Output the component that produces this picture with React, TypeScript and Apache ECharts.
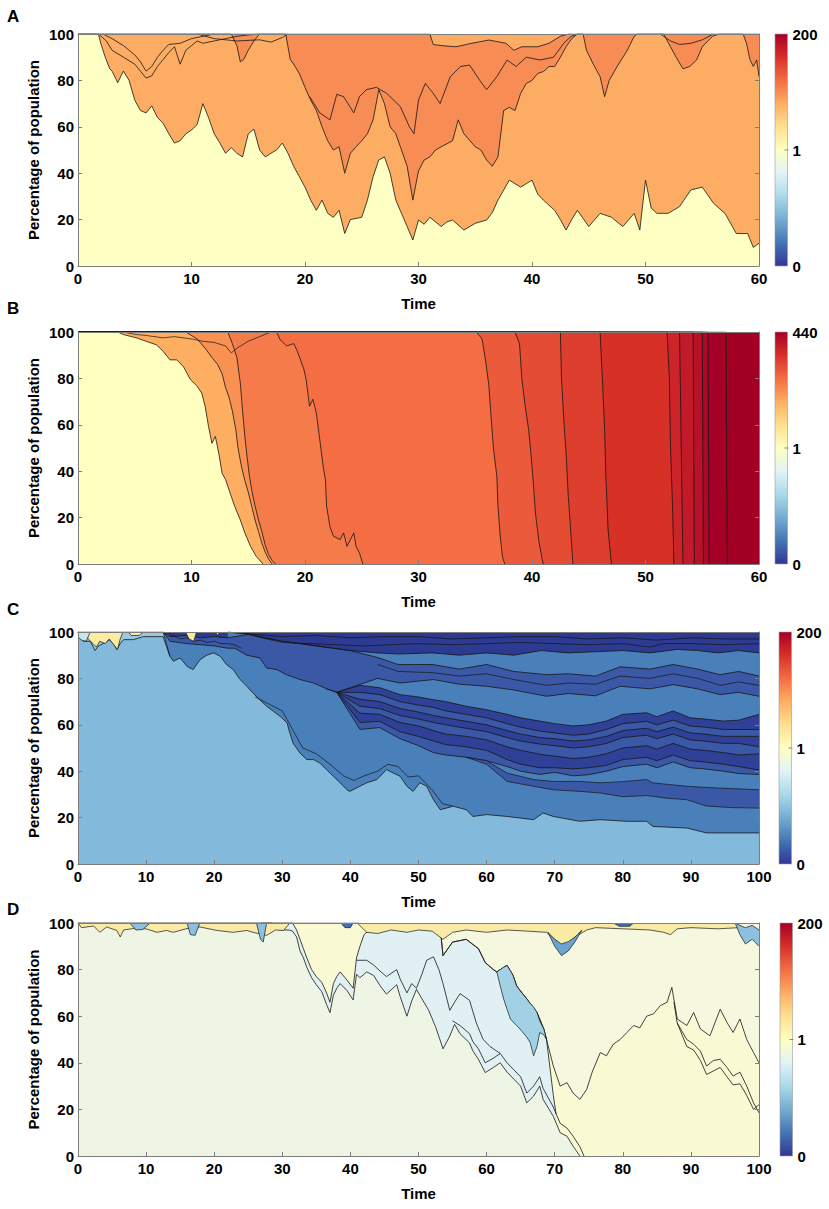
import React, { useEffect, useRef } from "react";
import * as echarts from "echarts";

type Pt = [number, number];

const FONT = "Arial, 'Liberation Sans', Helvetica, sans-serif";
const LINE_COLOR = "#161616";
const AXIS_GRAY = "#7d7d7d";

const PANEL_LETTERS = ["A", "B", "C", "D"];
const X_MAX = [60, 60, 100, 100];
const CB_LABELS = [["200", "1", "0"], ["440", "1", "0"], ["200", "1", "0"], ["200", "1", "0"]];
const RDYLBU = ["#a50026", "#d73027", "#f46d43", "#fdae61", "#fee090", "#ffffbf", "#e0f3f8", "#abd9e9", "#74add1", "#4575b4", "#313695"];

// ---------------- Panel A ----------------
const A_YELLOW = "#feffc2";
const A_LIGHT = "#fcad63";
const A_DARK = "#f78c54";

const aYellowTop: Pt[] = [[0,100],[1.8,100],[2,96],[2.4,90],[2.8,85],[3,84],[3.5,79],[4,84],[4.5,80],[5,71.5],[5.5,67],[6,66],[6.5,69],[7,64],[7.5,61.5],[8,57],[8.5,53],[9,54],[9.5,57],[10,58.6],[10.5,61],[11,70],[11.5,64],[12,57],[12.5,53],[13,48.6],[13.5,51],[14,48.6],[14.5,47],[15,57],[15.5,59],[16,50],[16.5,47],[17,48.6],[17.5,50],[18,53],[18.5,48.6],[19,43],[19.5,38.5],[20,34],[20.5,28.4],[21,24],[21.5,28.4],[22,22.7],[22.5,21],[23,24],[23.5,14],[24,20],[24.5,20.5],[25,21],[25.5,28.4],[26,38.5],[26.5,45.7],[27,47],[27.5,40],[28,28.4],[28.5,22.7],[29,17],[29.5,11.2],[30,19.8],[30.5,18],[31,21],[32,17],[32.5,19],[33,19.8],[34,15.5],[35,18.4],[36,19.8],[36.5,23],[37,28.4],[38,37],[39,34],[39.5,35.5],[40,37],[40.5,31],[41,28.4],[42,24],[42.5,20],[43,15.5],[43.5,20],[44,24],[45,17],[46,22.7],[47,21],[48,17],[49,22.7],[49.5,15.5],[50,37],[50.5,25],[51,22.7],[52,22.7],[53,25.6],[54,32.8],[55,34],[56,27],[57,22.7],[58,14],[59,14],[59.5,8],[60,9.8]];
const aDarkLower: Pt[] = [[0,100],[13.5,100],[14,95],[14.3,88],[14.6,89],[15,93],[15.5,97],[16,100],[18.3,100],[18.7,89],[19,87],[19.5,83],[20,77],[20.5,71.5],[21,67],[21.5,60],[22,54],[22.5,50],[23,51.4],[23.5,40],[24,48.6],[24.5,51.4],[25,54],[25.5,57],[26,63],[26.5,76],[27,70],[27.5,60],[28,57],[28.5,50],[29,43],[29.5,28.4],[30,41],[30.5,45.7],[31,47],[31.5,50],[32,51.4],[33,54],[33.5,63],[34,57],[35,51.4],[35.5,50],[36,45.7],[36.5,43],[37,47],[37.5,67],[38,68.4],[38.5,67],[39,74.4],[39.5,78.7],[40,80],[40.5,83],[41,83.8],[41.5,86],[42,86],[42.5,90],[43,94.5],[43.5,98],[44,100],[44.5,100],[44.8,93],[45.4,87],[46,81.6],[46.4,73],[46.8,80],[47.5,86],[48.4,93],[49,99],[49.3,100],[51.6,100],[52.2,94.5],[52.7,90],[53.3,85],[53.9,86],[54.5,88.8],[55,94.5],[55.9,99],[56.5,100],[58.6,100],[58.9,96],[59.2,89],[59.5,86],[59.8,88.8],[60,81.6]];
const aDarkUpper: Pt[] = [[20.4,73],[20.8,70],[21.3,66],[22.2,63],[22.8,74],[23.4,73],[24.3,66],[24.8,73],[25.4,76],[26.3,77],[27.2,74.4],[28.4,68.7],[29.2,60],[29.6,57],[30,71.5],[30.6,78.7],[31.3,74.4],[31.9,70],[32.8,81.6],[33.7,86],[34.5,86.6],[35.4,80],[36,76],[36.9,81.6],[37.8,88.8],[38.6,86],[39.5,90],[40.7,88.8],[41.9,90],[42.8,96],[43.4,98.8],[44,100]];
const aTopSliver: Pt[] = [[0,100],[31,100],[31.3,95.5],[32,95],[33.3,94.5],[34.7,96],[36.2,97.4],[37.7,96],[38.4,93],[39.1,94.5],[40.5,94.5],[41.5,96],[42.5,99],[43.2,100],[60,100]];
const aSliverLine1: Pt[] = [[1.8,100],[2.5,97],[3,93],[4,90],[5,87],[5.5,84],[6,81],[6.5,82],[7,86],[7.5,89],[8,92],[8.5,94.5],[9,87],[9.5,93],[10,95],[10.5,97],[11,96],[12,97],[13,98],[14,99],[15,99.6],[16,100]];
const aSliverLine2: Pt[] = [[2.2,100],[3,98],[4,95],[5,91],[5.5,88],[6,84],[6.5,86],[7,90],[7.5,93],[8,95.5],[9,96],[10,98],[11,99],[12,100]];
const aSliverLine3: Pt[] = [[10.5,100],[12,98],[14,97],[16,97.5],[17,96.5],[18,98.5],[18.5,100]];
const aWedgeLine: Pt[] = [[51.3,100],[52.2,97],[53,95.5],[54,96],[55,97.5],[56,100]];

// ---------------- Panel B ----------------
const bCloneColors = ["#ffffbf","#fdae61","#f99153","#f67b4a","#f46d43","#eb5b3b","#e44c34","#dd3e2d","#d63027","#cc2429","#c31a29","#b91128","#ae0827","#a50026","#a30026"];
const bBound1: Pt[] = [[0,100],[3.5,100],[4,98.9],[5.2,97.4],[6,96],[6.9,94.5],[7.5,91.7],[8.1,88],[8.7,88],[9.3,85],[9.9,79.5],[10.5,76.6],[10.9,73.7],[11.2,68],[11.5,59.3],[11.8,52],[12.1,55],[12.4,47.8],[12.7,39],[13,36.4],[13.4,30.6],[13.8,24.9],[14.3,19],[14.7,13.4],[15.2,7.6],[15.7,3.3],[16.3,0]];
const bBound2: Pt[] = [[0,100],[9.5,100],[10.5,97],[11.2,93],[11.8,89],[12.3,86],[12.7,82],[13,76],[13.3,72],[13.6,66],[13.9,58],[14.1,50],[14.4,42],[14.7,36],[15,31],[15.3,25],[15.6,19],[15.9,14],[16.2,9],[16.5,5],[16.8,2],[17.1,0]];
const bBound3: Pt[] = [[0,100],[13.2,100],[13.6,95],[14,89],[14.3,78],[14.5,66],[14.7,55],[14.9,46],[15.1,38],[15.3,32],[15.6,25],[15.9,19],[16.2,14],[16.5,8],[16.8,4],[17.1,1.5],[17.4,0]];
const bBound4: Pt[] = [[0,100],[17.5,100],[17.8,96.7],[18.4,94],[19,95],[19.3,92],[19.9,84],[20.1,79.5],[20.4,68],[20.7,71],[21,65],[21.3,53.6],[21.6,42],[21.8,36.4],[21.9,25],[22.2,16],[22.5,12],[23.1,10.5],[23.4,13.4],[23.7,7.6],[24.3,13.4],[24.5,7.6],[24.8,4.7],[25.1,0]];
const bBound5: Pt[] = [[0,100],[35.1,100],[35.6,97],[35.9,88],[36.2,77],[36.4,63],[36.6,50],[36.9,38],[37,25],[37.2,12],[37.4,3],[37.6,0]];
const bBound6: Pt[] = [[0,100],[38.5,100],[38.9,95],[39.1,80],[39.4,68],[39.7,58],[39.9,48],[40.1,36],[40.3,22],[40.6,10],[40.9,2],[41,0]];
const bBound7: Pt[] = [[0,100],[42.5,100],[42.6,80],[42.8,62],[43,48],[43.2,29],[43.4,15],[43.6,0]];
const bBound8: Pt[] = [[0,100],[46,100],[46.2,80],[46.4,58],[46.5,39],[46.7,15],[47,0]];
const bBound9: Pt[] = [[0,100],[51.9,100],[52.1,80],[52.2,51],[52.4,22],[52.5,0]];
const bBound10: Pt[] = [[0,100],[53,100],[53.3,0]];
const bBound11: Pt[] = [[0,100],[54.2,100],[54.3,0]];
const bBound12: Pt[] = [[0,100],[55,100],[55.1,0]];
const bBound13: Pt[] = [[0,100],[55.5,100],[55.6,0]];
const bBound14: Pt[] = [[0,100],[57.1,100],[57.2,0]];
const bSliverLine: Pt[] = [[4,100],[5,99],[6,98.5],[7.5,97.5],[8.5,98],[10,97],[11,96],[12,95.5],[13,94],[13.5,91],[14,93],[15,96],[16,98],[17,100]];

// ---------------- Panel C ----------------
const C_NAVY = "#2c3a92";
const C_RIBBON = "#2f4197";
const C_DARK = "#3b58a6";
const C_MID = "#4a80ba";
const C_LIGHT = "#83b9da";
const C_LIGHT2 = "#9acae2";
const C_YELLOW = "#fbeca0";
const C_CYAN = "#c7e4ef";

const cNavyBottom: Pt[] = [[22,100],[25,99],[30,96],[35,94],[40,92],[44,91],[47,90.5],[52,91],[56,90],[60,91],[64,90],[68,92],[72,91],[76,91.5],[80,92],[84,91],[88,92.5],[91,92],[94,91],[97,92],[100,91]];
const cBand2Top: Pt[] = [[12.5,100],[13.5,98],[16,98.5],[18,97.5],[20,98],[22,97.5],[25,99],[30,96],[35,94],[40,92],[44,89],[47,86],[52,86],[56,84],[60,86],[64,83],[68.8,81.6],[72,82],[76,81],[79.6,85],[84,84],[87.4,86],[91,84],[94.3,81.6],[97,83],[100,81]];
const cBand2Bottom: Pt[] = [[12.5,100],[13.5,96],[16,95],[18,94.5],[20,94],[22,93],[23,93],[24.8,90],[26.7,88.8],[27.7,84.5],[29.2,83.8],[30.6,81.6],[32.6,79.5],[34.6,78],[36.5,75.5],[38,74],[40,76],[42,78],[44,80],[47.3,78],[52.2,79.5],[56,77.5],[60,76.6],[64,75],[68.8,72.3],[72,73.5],[76,72.5],[79.6,76.6],[84,75.5],[87.4,77.3],[91,75.5],[94.3,73],[97,74],[100,72.3]];
const cClusterTimes = [38,41.4,44.3,47.3,50,52.2,54,57,60,63,65,67.8,70,72.7,75,77.6,80,83.5,85,87.4,89.9,92,94.8,97,100];
const cClusterTop = [74,77,76,73,72,70.8,70,68,66.5,64.5,63,61.6,60.5,59.5,60,61.6,64.5,65.2,63.5,66,63,62.5,61.6,62,64.5];
const cRibbon1 = [74,74,73,70,68.5,67.5,66,64.5,63,60.5,59,57.3,56.5,55.5,56,58,60.5,61.5,60,62,59.5,59,58,58,58];
const cRibbon2 = [74,71,70,67,65.5,64,63,61.5,60,57.5,56,54.5,54,53,53.5,55,57.5,58.5,57,59,56.5,56,55,55,55];
const cRibbon3 = [74,68,67,64,62.5,61,60,58.5,57,54.5,53,51.7,51,50,50.5,52,54.5,55.5,54,56,53.5,53,52,52,50.5];
const cRibbon4 = [74,65,64.5,61,59.5,57.5,56,55,53.5,50.5,49,47.3,46.5,45.5,46,47.5,50,51,49.5,52,49.5,49,48,47,47.5];
const cRibbon5 = [74,61,61.5,57,55,53,51.5,50.5,49,45,43,41.5,41.5,41,41.5,42.5,45,46,44.5,47,44.5,44,43,42,40.5];
const cClusterBottom = [74,58,58.8,54,51,48,47,46,44.5,42,40,38.6,39.5,38,38.5,40,42,43,41.5,44,41.5,41,40,39,38.6];
const cClusterBottomLead: Pt[] = [[36.5,75.5]];
const cEarlyEdge: Pt[] = [[0,100],[12.5,100],[13.5,89.5]];
const cLightTop: Pt[] = [[0,100],[0.3,98],[0.8,96],[1.8,96],[2.5,92],[3,94],[3.7,95],[4.7,96.7],[5.4,94],[5.7,92.4],[6.2,95],[6.7,96.7],[8.1,96.7],[9.6,98],[12.5,98],[13.5,89.5],[14,87.4],[15,88.8],[16,85.2],[16.9,83.8],[17.9,88],[18.9,90],[19.9,91],[20.9,89.5],[21.8,86],[22.8,83.8],[23.8,79.5],[24.8,76.6],[25.7,73.7],[26.7,70.8],[27.7,68],[28.7,65.8],[29.7,63.6],[30.7,60.8],[31.1,56.5],[31.6,52],[32.6,47.8],[33.6,45],[34.6,45],[35.5,43.5],[36.5,40.7],[37.5,37.8],[38.5,35],[39.5,32],[39.9,31.3],[41.4,33.5],[42.4,35],[43.9,36.4],[45.3,40.7],[46.3,39.2],[47.3,37.8],[48.3,33.5],[49.2,31.3],[50.2,35],[51.2,33.5],[52.2,27.7],[53.2,23.4],[55.1,24.9],[57,23.4],[58,20.5],[60,21.3],[63,20.5],[66.9,19.1],[68.3,22],[69.8,20.5],[73.7,18.4],[76.7,19.1],[80.6,18.4],[83.5,18.4],[84.4,16.2],[89.4,15.5],[92.3,13.4],[100,13.4]];
const cBand1Times = [57,60,63,66.9,69.8,73.7,76.7,80,83.5,84.4,86,89.4,92.3,96,100];
const cBand1Lower = [46,43,35.6,33.5,32,31.3,30.6,29,29.5,29.2,28.5,27.7,25,24.3,24.1];
const cBand1Upper = [46,44.5,39.2,36.4,35.6,35.6,35,35.5,36.4,35,34.5,33.5,33,32.5,32];
const cThinLine: Pt[] = [[26,72],[28,69],[30,66],[31.5,58],[33,50],[35,47.5],[37,43],[39,38],[40.5,36],[42,38],[44,40],[45.5,43],[47,42],[48.5,37.5],[50,38],[52,32],[53.5,26],[55,25]];
const cNavyLine1: Pt[] = [[22,100],[24,99.5],[26,99],[30,98],[35,98.5],[40,97.5],[45,98],[50,98],[55,97],[60,97.5],[65,98],[70,98],[75,97],[80,97.5],[85,96.5],[90,97.5],[95,97],[100,97]];
const cNavyLine2: Pt[] = [[24,100],[27,97.5],[30,95.5],[34,95],[38,94.5],[42,94],[46,94.5],[50,95],[55,94.5],[60,95],[65,95.5],[70,95],[75,94.5],[80,95],[84,93.5],[86,95],[90,95],[95,94.5],[100,95]];
const cBand2Line: Pt[] = [[44,86],[47,83],[52,82.5],[56,81],[60,82],[64,79.5],[68.8,77],[72,78],[76,77.5],[79.6,81],[84,80],[87.4,82],[91,80],[94.3,77],[97,78.5],[100,77]];
const cEarlyLine: Pt[] = [[13,100],[14,98.5],[15,97],[16,97.5],[17,96],[18,96.5],[19,95.5],[20,96],[21,95],[22,95],[23,94.5],[24,93]];
const cYellowTimes1 = [1,1.5,2.2,2.7,3.2,4,4.6,5.4,5.8,6.2,6.6,7.4,7.8,9,9.6];
const cYellowLower1 = [100,97,95,93.5,96,95,97,94,92.5,97,100,100,98.5,98.5,100];
const cYellowTimes2 = [15.8,16.3,17,17.4,20.2,20.5,20.8];
const cYellowLower2 = [100,97,96,100,100,98.5,100];
const cCyanTimes = [0,0.5,1.2,1.8];
const cCyanLower = [98,96.5,96,100];

// ---------------- Panel D ----------------
const D_TOP = "#f5f7de";
const D_YELLOW = "#f9f9d4";
const D_CYAN = "#e1f1f3";
const D_GREEN = "#eef5e4";
const D_BLUE = "#a2d0e5";
const D_SLIVER_Y = "#f9eba6";
const D_SLIVER_B = "#8dc0de";
const D_SLIVER_B2 = "#6aa5d2";
const D_DARKBLUE = "#3f6fb4";

const dBigLine: Pt[] = [[0,100],[41,100],[44,99],[47.3,99],[50,98.5],[53.2,97.6],[53.6,86],[55,91.8],[57,93],[58.8,89],[59.8,83],[61,80],[61.5,79],[63,81.8],[63.9,77.4],[64.4,73],[65.9,67.4],[67.4,61.6],[68.4,54.5],[68.8,50],[69.8,38.6],[70.8,30],[71.8,31.5],[72.7,27],[73.7,24.3],[74.7,28.6],[75.5,36],[76.7,44.4],[77.6,43],[78.6,48],[79.6,50],[80.6,53],[81.6,56],[82.5,55],[83.5,60],[84.5,61],[85.5,64.5],[86.5,66],[87.2,72.4],[88,58.8],[89.4,56],[90.4,61.6],[91.4,54.5],[92.8,51.6],[94.3,63],[95.3,57.3],[96.2,53],[97.2,58.8],[98.2,50],[99.2,44.4],[100,40]];
const dCyanTop: Pt[] = [[27,100],[31.5,100],[31.7,99],[32.1,97],[32.6,93],[33.1,89],[33.6,85],[34.3,80],[35,77],[35.8,74.5],[36.5,70],[37,66],[37.5,74],[38,77],[38.5,79],[39.5,75.5],[40.4,72],[40.9,85],[41.4,90],[42,95],[43,97.5],[44,99],[47.3,99],[50,98.5],[53.2,97.6],[53.6,86],[55,91.8],[57,93],[58.8,89],[59.8,83],[61,80],[61.5,79],[63,81.8],[63.9,77.4],[64.4,73],[65.9,67.4],[67.4,61.6],[68.4,54.5],[68.8,50],[69.3,38],[69.8,26],[70.2,18]];
const dGreenTop: Pt[] = [[0,100],[28.5,100],[29,97.5],[30,97],[31,97],[31.5,96.5],[32.1,94],[32.6,88],[33.1,85],[33.6,81],[34.3,76.5],[35,73.5],[35.8,70.5],[36.5,65],[37,61.5],[37.5,69],[38,72],[38.5,74],[39.5,71],[40.4,67],[40.9,78],[41.4,76.5],[42.4,79],[43.4,77.5],[44.5,72.5],[45.3,69.5],[46.8,73.5],[47.3,68.5],[48.3,60],[49,66.5],[49.7,71.5],[50.5,67.5],[51.5,62.5],[52.5,55.5],[53.6,46],[54.6,51.5],[55.3,56.5],[56.1,52.5],[57.5,48.5],[58,45],[58.8,41.5],[59.8,35.8],[61,38],[62,40],[63,36],[64,33],[65,30],[65.9,22.8],[66.9,25.7],[67.8,30],[68.3,24.3],[69.8,17],[70.8,10],[71.8,8.5],[72.7,4.2],[73.7,0]];
const dGreenTop2: Pt[] = [[55,58],[56.1,56],[57.5,52.5],[58,49],[58.8,46],[59.8,40],[61,42],[62,44],[63,40],[64,37],[65,34],[65.9,27],[66.9,30],[67.8,34],[68.3,29],[69.8,21],[70.8,14],[71.8,12],[72.7,8.5],[73.7,4],[74.3,0]];
const dMidLine: Pt[] = [[40.9,84],[42.4,84],[43.4,82],[44.5,79],[45.3,77],[46.8,80],[47.3,76],[48.3,70],[49,74],[49.7,72],[50.5,78],[51.2,84],[52.2,85.5],[53,80],[53.6,74],[54.6,62.5],[55.3,66],[56.1,69.7],[57.5,66.8],[58.5,57],[59.5,50],[60.5,47],[61.5,45],[62,44]];
const dLowLine1: Pt[] = [[87.5,66],[88,57],[89.4,50],[90.4,48],[91.4,45],[92.3,38.6],[93.3,41],[94.3,41.5],[95.3,38],[96.2,34.3],[97.2,36],[98.2,30],[99.2,22.8],[100,18.5]];
const dLowLine2: Pt[] = [[88,57],[89.4,47],[90.4,45.5],[91.4,41],[92.3,35],[93.3,36.5],[94.3,38],[95.3,34],[96.2,30.5],[97.2,31],[98.2,26],[99.2,20],[100,22]];
const dBlueTimes = [61.5,62,62.5,63,63.5,63.9,64.4,64.9,65.9,66.4,66.9,67.4,67.8,68.4,68.8];
const dBlueUpper = [79,80,81,81.8,79.5,77.4,73,71,67.4,65.5,64,61.6,58,54.5,50];
const dBlueLower = [79,73,67.4,63,58.8,57.5,56,54.5,51,48.7,43,47,53,52,50];
const dYellowTimes1 = [0,0.5,2.3,3.2,4.2,5.7,6.2,6.7,8.1,10,11.6,13,14,16,17.9,20.4,22.8,24.8,25.7,27.7,29,30.2,31.1];
const dYellowLower1 = [100,98,98.7,96,98.3,96.8,94,97,97.6,97.5,96,96.8,96,97.6,98.3,96.8,96,96.8,96,94.7,97,96.8,100];
const dYellowTimes2 = [41,42.4,44,46,48.3,50,52,53.6,55,57,60,63,66,68.8,70,71,72,73,74.7,76,80,84,86,87,88,90,94,97];
const dYellowLower2 = [100,96,95.5,97,96,97,96.5,93,96,97,96,97,96.5,96,93,90,91,94,97,98,97.5,97,96,95,97.5,98,97.5,98];
const dBlueEarlyTimes = [7.6,8.5,9.5,10.6,16,16.5,17.2,17.9,26.2,26.8,27.2,27.7];
const dBlueEarlyLower = [100,97,97.2,100,100,95,94.7,100,100,93,91.8,100];
const dBlueLateATimes = [69,70,71,72,73,74];
const dBlueLateALower = [96,90,86,88,92,97];
const dBlueLateAUpper = [96,93,91,92,94,97];
const dBlueLateBTimes = [96.5,97.2,98,99,100];
const dBlueLateBLower = [100,95,91,93,90];
const dBlueLateBUpper = [100,99,98,99,97];
const dDarkTimes = [38.6,39.2,40,40.4,78.6,79.5,81,81.6];
const dDarkLower = [100,98,98,100,100,98.6,98.6,100];

// ---------------- layout ----------------
const GRID_LEFT = 78;
const GRID_WIDTH = 681;
const GRID_TOPS = [34, 332, 632, 923];
const GRID_HEIGHTS = [232, 232, 232, 233];
const CB_X = [775, 775, 779, 780];
const CB_W = 12.5;
const LETTER_Y = [16, 308, 609, 909];
const TOP_EDGE = 100;

function fillLine(g: number, data: Pt[], color: string, width = 0.8): any {
  return {
    type: "line", xAxisIndex: g, yAxisIndex: g, data,
    symbol: "none", showSymbol: false, silent: true, animation: false,
    lineStyle: { color: LINE_COLOR, width },
    areaStyle: { color, opacity: 1, origin: "start" },
    emphasis: { disabled: true },
    z: 2,
  };
}
function plainLine(g: number, data: Pt[], width = 0.8): any {
  return {
    type: "line", xAxisIndex: g, yAxisIndex: g, data,
    symbol: "none", showSymbol: false, silent: true, animation: false,
    lineStyle: { color: LINE_COLOR, width },
    emphasis: { disabled: true },
    z: 2,
  };
}
// a band between two curves sampled at the same times, drawn through the axes' scales
function band(g: number, times: number[], lower: number[], upper: number[], color: string): any {
  const data = times.map((t, i) => [t, lower[i], upper[i]]);
  return {
    type: "custom", xAxisIndex: g, yAxisIndex: g, data,
    encode: { x: 0, y: [1, 2] },
    silent: true, animation: false, clip: true, z: 3,
    renderItem: (params: any, api: any) => {
      if (params.dataIndex !== 0) return null;
      const up = times.map((t, i) => api.coord([t, upper[i]]));
      const lo = times.map((t, i) => api.coord([t, lower[i]]));
      const poly = up.concat(lo.slice().reverse());
      return {
        type: "group",
        children: [
          { type: "polygon", shape: { points: poly }, style: { fill: color, stroke: null } },
          { type: "polyline", shape: { points: up }, style: { stroke: LINE_COLOR, lineWidth: 0.7, fill: null } },
          { type: "polyline", shape: { points: lo }, style: { stroke: LINE_COLOR, lineWidth: 0.7, fill: null } },
        ],
      };
    },
  };
}
const zip = (times: number[], vals: number[]): Pt[] => times.map((t, i) => [t, vals[i]] as Pt);
const edge = (times: number[]) => times.map(() => TOP_EDGE);

function buildOption(): any {
  const series: any[] = [];
  // A
  series.push(fillLine(0, [[0, 100], [60, 100]], A_LIGHT, 0));
  series.push(fillLine(0, aTopSliver, A_DARK));
  series.push(fillLine(0, aDarkUpper, A_DARK));
  series.push(fillLine(0, aDarkLower, A_LIGHT));
  series.push(fillLine(0, aYellowTop, A_YELLOW));
  series.push(plainLine(0, aSliverLine1), plainLine(0, aSliverLine2), plainLine(0, aSliverLine3), plainLine(0, aWedgeLine));

  // B
  const bBounds = [bBound1, bBound2, bBound3, bBound4, bBound5, bBound6, bBound7, bBound8, bBound9, bBound10, bBound11, bBound12, bBound13, bBound14];
  series.push(fillLine(1, [[0, 100], [60, 100]], bCloneColors[14], 0));
  for (let k = bBounds.length - 1; k >= 0; k--) series.push(fillLine(1, bBounds[k], bCloneColors[k]));
  series.push(plainLine(1, bSliverLine, 0.7));

  // C
  series.push(fillLine(2, [[0, 100], [100, 100]], C_NAVY, 0));
  series.push(fillLine(2, cNavyBottom, C_MID));
  series.push(fillLine(2, cBand2Top, C_DARK));
  series.push(fillLine(2, cBand2Bottom, C_MID));
  series.push(fillLine(2, zip(cClusterTimes, cClusterTop), C_RIBBON));
  series.push(fillLine(2, zip(cClusterTimes, cRibbon1), C_DARK));
  series.push(fillLine(2, zip(cClusterTimes, cRibbon2), C_RIBBON));
  series.push(fillLine(2, zip(cClusterTimes, cRibbon3), C_DARK));
  series.push(fillLine(2, zip(cClusterTimes, cRibbon4), C_RIBBON));
  series.push(fillLine(2, zip(cClusterTimes, cRibbon5), C_DARK));
  series.push(fillLine(2, cClusterBottomLead.concat(zip(cClusterTimes, cClusterBottom)), C_MID));
  series.push(fillLine(2, cEarlyEdge, C_LIGHT2));
  series.push(fillLine(2, cLightTop, C_LIGHT));
  series.push(band(2, cBand1Times, cBand1Lower, cBand1Upper, C_DARK));
  series.push(band(2, cYellowTimes1, cYellowLower1, edge(cYellowTimes1), C_YELLOW));
  series.push(band(2, cYellowTimes2, cYellowLower2, edge(cYellowTimes2), C_YELLOW));
  series.push(band(2, cCyanTimes, cCyanLower, edge(cCyanTimes), C_CYAN));
  series.push(plainLine(2, cThinLine, 0.7), plainLine(2, cNavyLine1, 0.7), plainLine(2, cNavyLine2, 0.7), plainLine(2, cBand2Line, 0.7), plainLine(2, cEarlyLine, 0.7));

  // D
  series.push(fillLine(3, [[0, 100], [100, 100]], D_TOP, 0));
  series.push(fillLine(3, dBigLine, D_YELLOW));
  series.push(fillLine(3, dCyanTop, D_CYAN));
  series.push(fillLine(3, dGreenTop, D_GREEN));
  series.push(band(3, dBlueTimes, dBlueLower, dBlueUpper, D_BLUE));
  series.push(band(3, dYellowTimes1, dYellowLower1, edge(dYellowTimes1), D_SLIVER_Y));
  series.push(band(3, dYellowTimes2, dYellowLower2, edge(dYellowTimes2), D_SLIVER_Y));
  series.push(band(3, dBlueEarlyTimes, dBlueEarlyLower, edge(dBlueEarlyTimes), D_SLIVER_B));
  series.push(band(3, dBlueLateATimes, dBlueLateALower, dBlueLateAUpper, D_SLIVER_B2));
  series.push(band(3, dBlueLateBTimes, dBlueLateBLower, dBlueLateBUpper, D_SLIVER_B));
  series.push(band(3, dDarkTimes, dDarkLower, edge(dDarkTimes), D_DARKBLUE));
  series.push(plainLine(3, dGreenTop2), plainLine(3, dMidLine), plainLine(3, dLowLine1), plainLine(3, dLowLine2));

  const grids = GRID_TOPS.map((top, i) => ({
    left: GRID_LEFT, top, width: GRID_WIDTH, height: GRID_HEIGHTS[i],
    containLabel: false, outerBoundsMode: "none", show: false,
  }));

  const labelStyle = { color: "#000", fontSize: 15, fontWeight: "bold", fontFamily: FONT };
  const xAxes: any[] = [];
  const yAxes: any[] = [];
  for (let i = 0; i < 4; i++) {
    xAxes.push({
      gridIndex: i, type: "value", min: 0, max: X_MAX[i], interval: 10, position: "bottom", z: 10,
      axisLine: { show: true, onZero: false, lineStyle: { color: AXIS_GRAY, width: 1 } },
      axisTick: { show: true, inside: true, length: 4, lineStyle: { color: AXIS_GRAY } },
      axisLabel: { ...labelStyle, margin: 5 },
      splitLine: { show: false },
      name: "Time", nameLocation: "middle", nameGap: 30, nameMoveOverlap: false,
      nameTextStyle: { ...labelStyle },
    });
  }
  for (let i = 0; i < 4; i++) {
    xAxes.push({
      gridIndex: i, type: "value", min: 0, max: X_MAX[i], interval: 10, position: "top", z: 10,
      axisLine: { show: true, onZero: false, lineStyle: { color: AXIS_GRAY, width: 1 } },
      axisTick: { show: false }, axisLabel: { show: false }, splitLine: { show: false },
    });
  }
  for (let i = 0; i < 4; i++) {
    yAxes.push({
      gridIndex: i, type: "value", min: 0, max: 100, interval: 20, position: "left", z: 10,
      axisLine: { show: true, onZero: false, lineStyle: { color: AXIS_GRAY, width: 1 } },
      axisTick: { show: true, inside: true, length: 4, lineStyle: { color: AXIS_GRAY } },
      axisLabel: { ...labelStyle, margin: 4 },
      splitLine: { show: false },
      name: "Percentage of population", nameLocation: "middle", nameGap: 37, nameRotate: 90, nameMoveOverlap: false,
      nameTextStyle: { ...labelStyle },
    });
  }
  for (let i = 0; i < 4; i++) {
    yAxes.push({
      gridIndex: i, type: "value", min: 0, max: 100, interval: 20, position: "right", z: 10,
      axisLine: { show: true, onZero: false, lineStyle: { color: AXIS_GRAY, width: 1 } },
      axisTick: { show: true, inside: true, length: 4, lineStyle: { color: AXIS_GRAY } },
      axisLabel: { show: false }, splitLine: { show: false },
    });
  }

  const gradient = {
    type: "linear", x: 0, y: 0, x2: 0, y2: 1,
    colorStops: RDYLBU.map((c, i) => ({ offset: i / (RDYLBU.length - 1), color: c })),
  };
  const graphic: any[] = [];
  const textStyle = (text: string, align: string, size = 15) => ({
    text, fill: "#000", font: `bold ${size}px ${FONT}`,
    align, verticalAlign: "middle", textAlign: align, textVerticalAlign: "middle",
  });
  for (let i = 0; i < 4; i++) {
    const top = GRID_TOPS[i];
    const h = GRID_HEIGHTS[i];
    const x = CB_X[i];
    graphic.push({ type: "rect", silent: true, z: 20, shape: { x, y: top, width: CB_W, height: h }, style: { fill: gradient, stroke: "#9a9a9a", lineWidth: 0.6 } });
    graphic.push({ type: "line", silent: true, z: 21, shape: { x1: x + CB_W - 3, y1: top + h / 2, x2: x + CB_W + 1, y2: top + h / 2 }, style: { stroke: "#888", lineWidth: 1 } });
    const labs = CB_LABELS[i];
    graphic.push({ type: "text", silent: true, z: 21, x: x + CB_W + 5, y: top, style: textStyle(labs[0], "left") });
    graphic.push({ type: "text", silent: true, z: 21, x: x + CB_W + 5, y: top + h / 2, style: textStyle(labs[1], "left") });
    graphic.push({ type: "text", silent: true, z: 21, x: x + CB_W + 5, y: top + h, style: textStyle(labs[2], "left") });
    graphic.push({ type: "text", silent: true, z: 21, x: 7, y: LETTER_Y[i], style: textStyle(PANEL_LETTERS[i], "left", 17) });
  }

  return {
    animation: false,
    backgroundColor: "#ffffff",
    grid: grids,
    xAxis: xAxes,
    yAxis: yAxes,
    series,
    graphic,
  };
}

export default function App() {
  const ref = useRef<HTMLDivElement>(null);
  useEffect(() => {
    if (!ref.current) return;
    const chart = echarts.init(ref.current, undefined, { renderer: "svg" });
    chart.setOption(buildOption());
    return () => chart.dispose();
  }, []);
  return <div ref={ref} style={{ position: "absolute", left: 0, top: 0, width: 829, height: 1209, background: "#fff" }} />;
}
